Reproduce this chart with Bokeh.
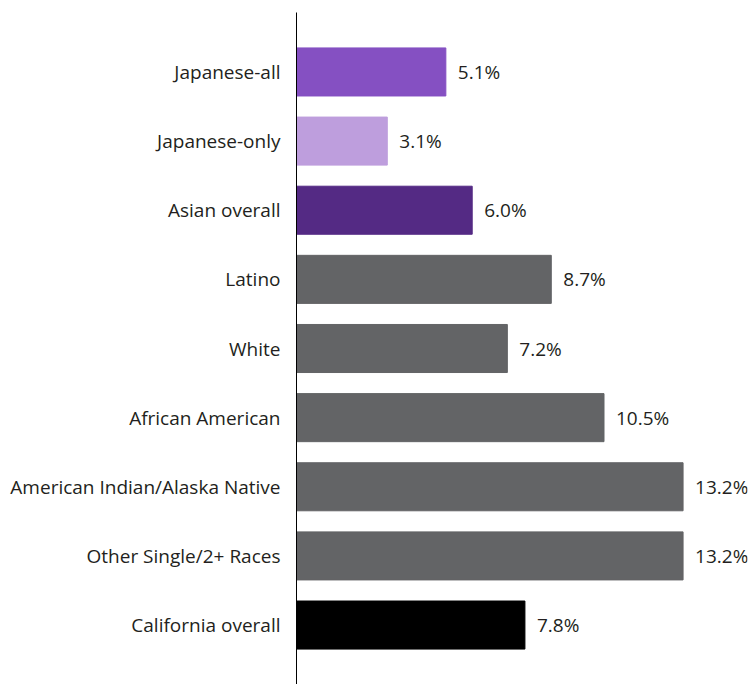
from bokeh.plotting import figure
from bokeh.models import ColumnDataSource, FactorRange, Range1d
from bokeh.embed import file_html
from bokeh.resources import INLINE
from bokeh.core.properties import value

categories = ["Japanese-all", "Japanese-only", "Asian overall", "Latino", "White",
              "African American", "American Indian/Alaska Native",
              "Other Single/2+ Races", "California overall"]
values = [5.1, 3.1, 6.0, 8.7, 7.2, 10.5, 13.2, 13.2, 7.8]
colors = ["#8550C2", "#BE9EDD", "#542A84", "#636466", "#636466", "#636466",
          "#636466", "#636466", "#000000"]
labels = [f"{v:.1f}%" for v in values]

FONT = "Open Sans"

src = ColumnDataSource(dict(cat=categories, val=values, color=colors, label=labels))

p = figure(width=752, height=684, output_backend="svg", toolbar_location=None,
           y_range=FactorRange(factors=categories[::-1], range_padding=0.36,
                               range_padding_units="absolute"),
           x_range=Range1d(0, 15.4), x_axis_location=None,
           min_border_left=296, min_border_right=5, min_border_top=12,
           min_border_bottom=0)
p.outline_line_color = None
p.grid.visible = False

p.hbar(y="cat", right="val", left=0, height=0.695, color="color", source=src)
p.text(x="val", y="cat", text="label", source=src, x_offset=12,
       text_baseline="middle", text_align="left", text_font=value(FONT),
       text_font_size="19px", text_color="#231F20")

ax = p.yaxis[0]
ax.major_tick_line_color = None
ax.minor_tick_line_color = None
ax.major_tick_out = 0
ax.major_tick_in = 0
ax.axis_line_color = "#000000"
ax.axis_line_width = 1
ax.major_label_text_font = FONT
ax.major_label_text_font_size = "19px"
ax.major_label_text_color = "#231F20"
ax.major_label_standoff = 16

open("out.html", "w").write(file_html(p, INLINE))
